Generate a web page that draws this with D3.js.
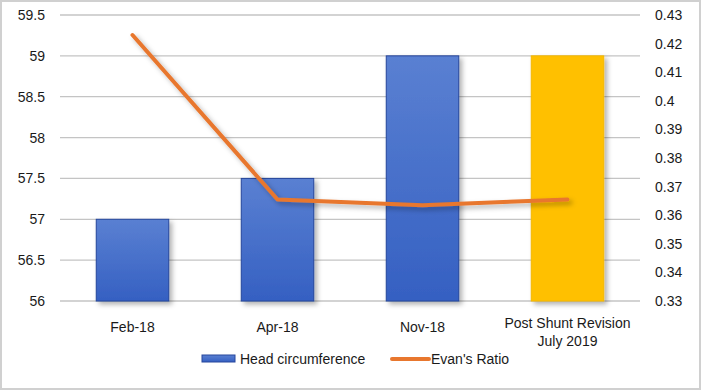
<!DOCTYPE html>
<html>
<head>
<meta charset="utf-8">
<script src="https://cdn.jsdelivr.net/npm/d3@7"></script>
<style>
  body { margin: 0; background: #fff; }
  text { font-family: "Liberation Sans", Arial, sans-serif; fill: #1a1a1a; }
</style>
</head>
<body>
<div id="chart"></div>
<script>
const categories = ["Feb-18", "Apr-18", "Nov-18", "Post Shunt Revision\nJuly 2019"];
const headCirc = [57, 57.5, 59, 59];
const evansRatio = [0.423, 0.3655, 0.3635, 0.3655];
const leftTicks = [56, 56.5, 57, 57.5, 58, 58.5, 59, 59.5];
const rightTicks = [0.33, 0.34, 0.35, 0.36, 0.37, 0.38, 0.39, 0.4, 0.41, 0.42, 0.43];

const W = 702, H = 391;
const margin = { top: 15, right: 62, bottom: 90, left: 60 },
      width = W - margin.left - margin.right,
      height = H - margin.top - margin.bottom;

const root = d3.select("#chart").append("svg")
  .attr("width", W).attr("height", H);

const defs = root.append("defs");
const grad = defs.append("linearGradient").attr("id", "blueGrad")
  .attr("x1", 0).attr("y1", 0).attr("x2", 0).attr("y2", 1);
grad.append("stop").attr("offset", "0%").attr("stop-color", "#5a80d2");
grad.append("stop").attr("offset", "100%").attr("stop-color", "#3560c2");

const shadow = defs.append("filter").attr("id", "shadow")
  .attr("x", "-20%").attr("y", "-20%").attr("width", "150%").attr("height", "150%");
shadow.append("feDropShadow").attr("dx", 3).attr("dy", 3).attr("stdDeviation", 2.5)
  .attr("flood-color", "#000").attr("flood-opacity", 0.3);

// outer frame
root.append("rect").attr("x", 1).attr("y", 1).attr("width", W - 3).attr("height", H - 3)
  .attr("fill", "none").attr("stroke", "#d0d0d0").attr("stroke-width", 2);

const svg = root.append("g").attr("transform", `translate(${margin.left},${margin.top})`);

const x = d3.scaleBand().domain(categories).range([0, width]).paddingInner(0.5).paddingOuter(0.25);
const y = d3.scaleLinear().domain([56, 59.5]).range([height, 0]);
const y2 = d3.scaleLinear().domain([0.33, 0.43]).range([height, 0]);

// gridlines
svg.append("g")
  .selectAll("line").data(leftTicks).join("line")
  .attr("x1", 0).attr("x2", width)
  .attr("y1", d => y(d)).attr("y2", d => y(d))
  .attr("stroke", "#c4c4c4").attr("stroke-width", 1.3);

// left axis
const yAxis = svg.append("g")
  .call(d3.axisLeft(y).tickValues(leftTicks).tickSize(0).tickPadding(15).tickFormat(d => d));
yAxis.select(".domain").remove();
yAxis.selectAll("text").style("font-size", "14px");

// right axis
const y2Axis = svg.append("g").attr("transform", `translate(${width},0)`)
  .call(d3.axisRight(y2).tickValues(rightTicks).tickSize(0).tickPadding(15).tickFormat(d => +d.toFixed(2)));
y2Axis.select(".domain").remove();
y2Axis.selectAll("text").style("font-size", "14px");

// bars
svg.selectAll(".bar").data(categories).join("rect")
  .attr("class", "bar")
  .attr("x", d => x(d))
  .attr("width", x.bandwidth())
  .attr("y", (d, i) => y(headCirc[i]))
  .attr("height", (d, i) => height - y(headCirc[i]))
  .attr("fill", (d, i) => i === 3 ? "#ffc000" : "url(#blueGrad)")
  .attr("stroke", (d, i) => i === 3 ? "#f5b800" : "#26469c")
  .attr("stroke-width", 1)
  .attr("filter", "url(#shadow)");

// line
const line = d3.line()
  .x((d, i) => x(categories[i]) + x.bandwidth() / 2)
  .y(d => y2(d));

svg.append("path").datum(evansRatio)
  .attr("fill", "none")
  .attr("stroke", "#e8772e")
  .attr("stroke-width", 4)
  .attr("stroke-linecap", "round")
  .attr("stroke-linejoin", "round")
  .attr("filter", "url(#shadow)")
  .attr("d", line);

// x labels
const xl = svg.append("g").attr("transform", `translate(0,${height})`);
categories.forEach(c => {
  const parts = c.split("\n");
  const t = xl.append("text")
    .attr("x", x(c) + x.bandwidth() / 2)
    .attr("y", parts.length > 1 ? 27 : 31)
    .attr("text-anchor", "middle")
    .style("font-size", "14px");
  parts.forEach((s, j) => {
    t.append("tspan").attr("x", x(c) + x.bandwidth() / 2).attr("dy", j === 0 ? 0 : 18).text(s);
  });
});

// legend
const lg = root.append("g").attr("transform", "translate(202,359)");
lg.append("rect").attr("x", 0).attr("y", -4).attr("width", 33).attr("height", 7)
  .attr("fill", "url(#blueGrad)").attr("stroke", "#26469c");
lg.append("text").attr("x", 38).attr("y", 5).style("font-size", "14px").text("Head circumference");
lg.append("line").attr("x1", 190).attr("x2", 227).attr("y1", 0).attr("y2", 0)
  .attr("stroke", "#e8772e").attr("stroke-width", 4).attr("stroke-linecap", "round");
lg.append("text").attr("x", 229).attr("y", 5).style("font-size", "14px").text("Evan's Ratio");
</script>
</body>
</html>
